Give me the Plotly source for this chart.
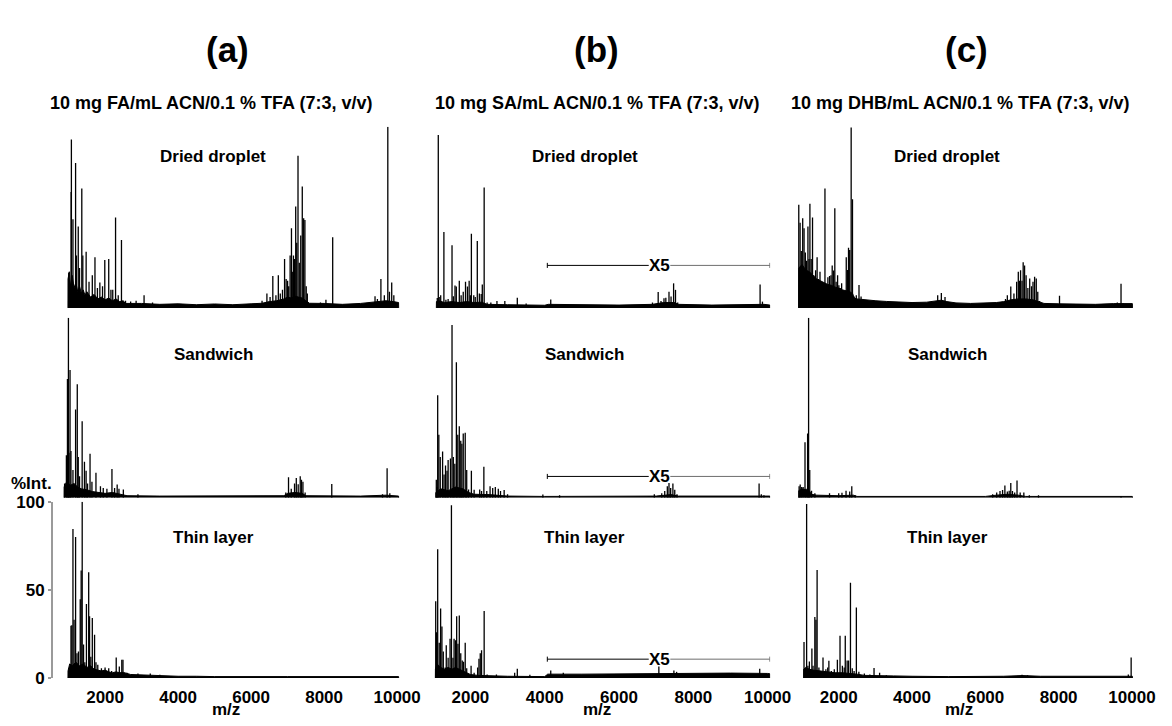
import plotly.graph_objects as go

# ---------------------------------------------------------------------------
# MALDI spectra: peak centroids (m/z, %Int.) and baseline envelopes (m/z, %Int.)
# FA = ferulic acid, SA = sinapinic acid, DHB = 2,5-dihydroxybenzoic acid
# dd = dried droplet, sw = sandwich, tl = thin layer
# ---------------------------------------------------------------------------

# ---- FA, dried droplet ----
fa_dd_mz = [1004, 1070, 1077, 1120, 1192, 1215, 1265, 1300, 1362, 1390, 1481, 1560, 1650,
            1723, 1790, 1857, 1930, 1992, 2100, 2160, 2210, 2287, 2360, 2449, 2560, 2700,
            2850, 3068, 3300, 6300, 6433, 6520, 6595, 6680, 6746, 6800, 6860, 6917, 6960,
            7000, 7030, 7069, 7106, 7140, 7160, 7190, 7222, 7250, 7285, 7320, 7360, 7402,
            7440, 7474, 7510, 7540, 7900, 8050, 8235, 9395, 9460, 9556, 9650, 9745, 9790,
            9852, 9910]
fa_dd_int = [19.5, 64, 93, 49, 80, 29, 45, 22, 66, 29, 31, 14.5, 18,
             28, 11, 14, 12, 26.5, 27, 10, 10, 50, 7, 37.5, 4, 3.5,
             4, 7, 3, 4, 8, 6, 17.6, 7, 18, 8, 10, 27, 16,
             15, 12, 29, 44, 20, 29, 27, 56, 36, 84, 25, 40, 67,
             49.5, 48.6, 12, 8, 3, 4.6, 39, 6.5, 5, 16, 7, 100, 9,
             14, 7]
fa_dd_base_mz = [983, 985, 1020, 1050, 1100, 1150, 1200, 1250, 1300, 1350, 1400, 1450, 1500,
                 1600, 1700, 1800, 1900, 2000, 2100, 2200, 2300, 2400, 2500, 2550, 3000,
                 3500, 4000, 4500, 5000, 5500, 6000, 6300, 6500, 6700, 6900, 7000, 7100,
                 7200, 7300, 7400, 7500, 7600, 8000, 8500, 9000, 9300, 9500, 9700, 9900,
                 10040, 10044]
fa_dd_base = [0, 16, 20, 12, 18, 11, 14, 9, 12, 8, 10, 7, 9,
              6, 7.5, 5, 6, 4.5, 5.5, 4, 5, 3.5, 4, 2.5, 2.5,
              2, 2.3, 1.8, 2.2, 1.8, 2.3, 2.6, 3.5, 4, 5, 6, 5.5,
              6.5, 6, 5.5, 4, 2.6, 2.5, 2, 2.5, 3, 3.5, 4, 3.5,
              3, 0]

# ---- FA, sandwich ----
fa_sw_mz = [890, 940, 969, 996, 1010, 1040, 1065, 1120, 1192, 1238, 1265, 1300, 1372,
            1435, 1480, 1520, 1588, 1640, 1750, 1873, 1950, 2050, 2188, 2260, 2331, 2380,
            2500, 2900, 6950, 7025, 7100, 7190, 7238, 7290, 7346, 7380, 7420, 7480, 8210,
            9600, 9726, 9800]
fa_sw_int = [8, 23.6, 66, 100, 25, 71, 26, 15.5, 49, 63, 22.7, 12, 42.5,
             20, 15, 8, 24.5, 9, 14, 6.5, 5.5, 5, 16, 5.5, 7.4, 5,
             4.7, 2, 3, 11.5, 5, 8, 11, 7.5, 12, 10, 9, 3, 7.7,
             2, 16.4, 2.5]
fa_sw_base_mz = [870, 872, 950, 1050, 1150, 1250, 1350, 1500, 1650, 1800, 2000, 2200, 2400,
                 2600, 3500, 5000, 6900, 7000, 7200, 7400, 7500, 9000, 9700, 10040, 10044]
fa_sw_base = [0, 6, 9, 7, 8, 6, 5, 4.5, 3.5, 3, 2.5, 3, 2,
              1.2, 1, 1, 1.2, 2.5, 3, 2.5, 1.2, 1, 1.5, 1, 0]

# ---- FA, thin layer ----
fa_tl_mz = [1012, 1066, 1090, 1120, 1150, 1192, 1230, 1270, 1319, 1345, 1373, 1410, 1445,
            1489, 1551, 1575, 1610, 1650, 1712, 1750, 1800, 1900, 2000, 2100, 2180, 2305,
            2390, 2458, 2490, 2600, 2900, 3238, 3500]
fa_tl_int = [5.7, 29.6, 30, 84.5, 33, 80, 14, 15, 44.7, 61, 100, 19, 9,
             42, 60, 35, 12, 34, 24.5, 9, 7.5, 5.5, 6, 5.5, 4, 11.6,
             6.5, 10.3, 10.3, 3, 2.5, 2.6, 1.8]
fa_tl_base_mz = [983, 985, 1030, 1100, 1200, 1300, 1400, 1500, 1600, 1700, 1800, 1900, 2000,
                 2100, 2200, 2300, 2400, 2500, 2700, 3000, 3500, 4000, 4500, 5000, 7000,
                 10040, 10044]
fa_tl_base = [0, 4, 8, 7, 9, 7, 8, 6, 7, 5, 4.5, 4, 4.5,
              3.5, 3, 3.5, 3, 3.2, 2, 1.8, 1.2, 1, 1, 0.8, 0.8,
              0.8, 0]

# ---- SA, dried droplet ----
sa_dd_mz = [1108, 1135, 1160, 1200, 1286, 1340, 1400, 1505, 1540, 1585, 1620, 1701, 1750,
            1807, 1868, 1920, 1966, 2000, 2026, 2090, 2130, 2185, 2240, 2290, 2320, 2370,
            2450, 2550, 2714, 2926, 3262, 3500, 4162, 6900, 7054, 7130, 7210, 7260, 7345,
            7400, 7469, 7520, 7580, 9797, 9860]
sa_dd_int = [5.5, 95.5, 6, 7, 42, 4.5, 5, 34.6, 6.5, 12.4, 11.8, 15, 7,
             9, 14.5, 11.8, 15, 7, 41, 7, 6, 37, 8, 7.7, 13, 66.5,
             3, 3, 3.8, 3.8, 5.6, 2.5, 4.7, 3, 8.8, 3.8, 5.4, 5.6, 9,
             6.3, 13.6, 10, 3, 13, 3.5]
sa_dd_base_mz = [1083, 1085, 1150, 1300, 1500, 1700, 1900, 2100, 2300, 2450, 3000, 4000,
                 4100, 5000, 6000, 6900, 7200, 7500, 7600, 8500, 9700, 9900, 10060, 10062]
sa_dd_base = [0, 3.5, 4, 3, 3.5, 3, 3.5, 3, 3.2, 2, 1.8, 1.5,
              2, 1.8, 1.6, 2, 3, 3, 2, 1.6, 1.8, 2, 1.6, 0]

# ---- SA, sandwich ----
sa_sw_mz = [1082, 1100, 1119, 1150, 1188, 1251, 1290, 1330, 1370, 1400, 1463, 1505, 1540,
            1580, 1622, 1660, 1701, 1740, 1770, 1807, 1860, 1900, 1950, 2026, 2100, 2250,
            2300, 2362, 2440, 2529, 2600, 2670, 2750, 2810, 2908, 3000, 3950, 4400, 6950,
            7150, 7230, 7300, 7345, 7390, 7450, 7500, 7560, 9770, 9830, 9900]
sa_sw_int = [10, 6, 57, 35, 22.7, 25.8, 13, 18, 15, 21, 21.8, 96, 22.7,
             19, 75.3, 35, 39.8, 31.7, 30, 35.7, 36.2, 15.5, 4.7, 15, 4.5, 4.7,
             3.8, 17.3, 3.8, 6.5, 5.5, 6, 5, 3.8, 4.3, 2, 1.8, 1.5, 2,
             2.5, 3.8, 6.5, 8.3, 5.5, 8, 4.5, 2, 8, 2, 1.5]
sa_sw_base_mz = [1067, 1069, 1200, 1400, 1600, 1800, 1950, 2100, 2500, 3000, 4000, 7000,
                 7400, 7600, 10060, 10062]
sa_sw_base = [0, 3, 5, 4, 6, 5, 3, 2, 1.8, 1, 0.8, 1,
              1.8, 1, 1, 0]

# ---- SA, thin layer ----
sa_tl_mz = [1066, 1090, 1119, 1160, 1198, 1233, 1270, 1320, 1350, 1400, 1452, 1489, 1530,
            1560, 1600, 1630, 1665, 1701, 1740, 1780, 1815, 1860, 1900, 2018, 2100, 2194,
            2230, 2265, 2300, 2370, 2450, 2700, 3191, 3262, 3600, 4162, 4500, 7072, 7477,
            7550, 9787]
sa_tl_int = [43.5, 26, 73, 20, 39.4, 29.3, 15, 6, 18.6, 11.5, 22.3, 98, 11.5,
             22.3, 21.4, 35, 19.5, 35.5, 14, 10, 9.2, 20, 5.6, 7, 3, 6,
             11, 14, 15.8, 38, 2, 2, 3, 5.3, 1.8, 4.2, 3, 6.6, 4.2,
             3.5, 5.3]
sa_tl_base_mz = [1056, 1058, 1100, 1200, 1300, 1400, 1500, 1600, 1700, 1800, 1900, 2000,
                 2200, 2500, 3000, 4000, 4080, 5000, 6000, 7000, 8000, 9000, 10000, 10060,
                 10062]
sa_tl_base = [0, 5, 8, 6, 5, 6, 5, 6, 5, 4, 3, 2,
              1.5, 1.2, 1, 0.8, 2.2, 2.2, 2.4, 2.6, 2.6, 2.8, 2.6, 2.4,
              0]

# ---- DHB, dried droplet ----
dhb_dd_mz = [911, 947, 980, 1018, 1055, 1090, 1125, 1161, 1190, 1215, 1250, 1286, 1320,
             1370, 1411, 1450, 1490, 1530, 1570, 1625, 1670, 1705, 1750, 1790, 1823, 1860,
             1894, 1930, 1970, 2005, 2040, 2080, 2130, 2170, 2206, 2240, 2268, 2300, 2340,
             2376, 2420, 2480, 2554, 2610, 2700, 3000, 4700, 4800, 4900, 6550, 6600, 6694,
             6780, 6854, 6899, 6930, 6961, 7000, 7032, 7070, 7112, 7160, 7210, 7260, 7300,
             7344, 7389, 7430, 7480, 8023, 9600, 9701, 9760]
dhb_dd_int = [57, 47, 31.5, 49.5, 44, 30.6, 26, 45, 27, 57.5, 27, 50, 18,
              20.8, 28, 16, 20, 14, 13, 66, 13, 17, 17.7, 18, 23.5, 20.7,
              55, 14.5, 18, 12.5, 11, 13.6, 9, 8, 28, 21, 33.3, 32, 99.6,
              60, 6.3, 7, 12.7, 6.3, 4, 4, 7, 8.2, 6, 5, 7, 11.8,
              8, 14.5, 20, 15, 20.8, 15, 25.3, 23.5, 18, 11, 16.3, 12, 14.5,
              17.2, 16.3, 9, 3.8, 6.8, 3, 13.3, 2.5]
dhb_dd_base_mz = [910, 911, 1000, 1100, 1200, 1300, 1400, 1500, 1600, 1700, 1800, 1900,
                  2000, 2100, 2200, 2300, 2380, 2420, 2500, 2700, 3000, 3300, 3700, 4000,
                  4400, 4600, 4800, 4950, 5200, 5600, 6000, 6300, 6500, 6700, 6900, 7100,
                  7300, 7450, 7600, 8000, 8500, 9000, 9500, 9800, 10010, 10012]
dhb_dd_base = [0, 22, 24, 21, 20, 18, 16, 15, 14, 13, 12.5, 11.5,
               11, 10, 9.5, 9, 8, 5.5, 5, 4.5, 4, 3.6, 3.3, 3,
               3.2, 3.8, 4.3, 3.5, 2.8, 2.5, 2.6, 3, 3.5, 4.5, 5, 5,
               4.5, 3.5, 2.5, 2.3, 2, 2, 2.4, 2.6, 2.4, 0]

# ---- DHB, sandwich ----
dhb_sw_mz = [920, 950, 990, 1030, 1081, 1110, 1152, 1179, 1210, 1260, 1350, 1750, 2000,
             2089, 2200, 2300, 2357, 2450, 6200, 6310, 6400, 6470, 6533, 6600, 6650, 6694,
             6740, 6800, 6864, 6950, 7050, 7200, 7450, 9701]
dhb_sw_int = [6.5, 7.4, 6, 6, 30.8, 5, 35.7, 100, 15.5, 4, 2.5, 2.5, 2.5,
              2.9, 4, 3.5, 6.5, 1.5, 2, 3, 3.8, 4.3, 6.8, 3.5, 4, 8.3,
              3.8, 3, 9.7, 3, 3, 1.5, 1.5, 1]
dhb_sw_base_mz = [910, 911, 1000, 1100, 1200, 1250, 1400, 2000, 2400, 2500, 6000, 6300,
                  6600, 6900, 7100, 10010, 10012]
dhb_sw_base = [0, 4, 5, 4.5, 4, 2, 1.5, 1.2, 1.5, 0.8, 0.8, 1.5,
               2, 1.5, 0.8, 0.8, 0]

# ---- DHB, thin layer ----
dhb_tl_mz = [1054, 1090, 1125, 1160, 1200, 1230, 1269, 1300, 1349, 1380, 1411, 1460, 1500,
             1572, 1650, 1700, 1732, 1800, 1880, 1964, 2036, 2100, 2150, 2179, 2230, 2270,
             2321, 2370, 2420, 2482, 2550, 2700, 2850, 2964, 3116, 3300, 7000, 7150, 9900,
             9977]
dhb_tl_int = [20.4, 5, 98.7, 7, 9.4, 5, 16.8, 7, 34.6, 33, 61.3, 6, 4,
              11.6, 5, 6, 9.8, 4, 5, 10.3, 24, 7, 6, 24, 10, 10,
              54, 5.5, 4, 40, 3.5, 2.5, 2, 5.7, 3, 1.6, 1.8, 1.6, 2,
              11.6]
dhb_tl_base_mz = [1044, 1045, 1100, 1200, 1300, 1500, 1700, 1900, 2100, 2300, 2500, 2700,
                  3000, 3500, 4000, 5000, 6500, 7000, 7500, 9000, 10010, 10012]
dhb_tl_base = [0, 5, 6, 5, 4.5, 4, 3.5, 3, 3, 2.8, 2.2, 1.5,
               1.5, 1.2, 1, 0.8, 1, 1.4, 1, 0.9, 1, 0]

# ---- labels ----
col_labels = ["(a)", "(b)", "(c)"]
col_titles = ["10 mg FA/mL ACN/0.1 % TFA (7:3, v/v)",
              "10 mg SA/mL ACN/0.1 % TFA (7:3, v/v)",
              "10 mg DHB/mL ACN/0.1 % TFA (7:3, v/v)"]
row_labels = ["Dried droplet", "Sandwich", "Thin layer"]
x_ticks = [2000, 4000, 6000, 8000, 10000]
y_ticks = [0, 50, 100]

# X5 magnification bracket on the SA column: start, end (m/z) and height per row
x5_start, x5_end = 4070, 10060
x5_level = [23.5, 11.9, 10.7]

# panel order: row by row, FA / SA / DHB across
spectra = [
    (fa_dd_mz, fa_dd_int, fa_dd_base_mz, fa_dd_base),
    (sa_dd_mz, sa_dd_int, sa_dd_base_mz, sa_dd_base),
    (dhb_dd_mz, dhb_dd_int, dhb_dd_base_mz, dhb_dd_base),
    (fa_sw_mz, fa_sw_int, fa_sw_base_mz, fa_sw_base),
    (sa_sw_mz, sa_sw_int, sa_sw_base_mz, sa_sw_base),
    (dhb_sw_mz, dhb_sw_int, dhb_sw_base_mz, dhb_sw_base),
    (fa_tl_mz, fa_tl_int, fa_tl_base_mz, fa_tl_base),
    (sa_tl_mz, sa_tl_int, sa_tl_base_mz, sa_tl_base),
    (dhb_tl_mz, dhb_tl_int, dhb_tl_base_mz, dhb_tl_base),
]

# ---------------------------------------------------------------------------
# page geometry (pixels)
# ---------------------------------------------------------------------------
W, H = 1172, 726
FONT = "Arial, 'Liberation Sans', Helvetica, sans-serif"
X_RANGE = [860, 10070]
COL_PX2000 = [107.0, 479.0, 854.0]       # pixel of m/z 2000 in each column
COL_SCALE = [0.03717, 0.03783, 0.03733]  # pixels per m/z unit
ROW_BASE = [307.0, 502.0, 687.0]         # pixel of 0 %Int. in each row
ROW_SCALE = [1.86, 1.85, 1.81]           # pixels per %Int.
Y_AXIS_PX = 52.7


def col_domain(c):
    left = COL_PX2000[c] + (X_RANGE[0] - 2000) * COL_SCALE[c]
    right = COL_PX2000[c] + (X_RANGE[1] - 2000) * COL_SCALE[c]
    return [left / W, right / W]


def row_domain(r):
    bottom = ROW_BASE[r]
    top = ROW_BASE[r] - 100 * ROW_SCALE[r]
    return [1 - bottom / H, 1 - top / H]


def sticks(mz, inten):
    xs, ys = [], []
    for m, v in zip(mz, inten):
        xs += [m, m, None]
        ys += [0, v, None]
    return xs, ys


def bold(s):
    return "<b>" + s + "</b>"


def paper_text(px, py, text, size):
    return dict(x=px / W, y=1 - py / H, xref="paper", yref="paper",
                xanchor="center", yanchor="middle", text=bold(text),
                showarrow=False, font=dict(size=size, family=FONT, color="black"))


fig = go.Figure()
layout = dict(
    width=W, height=H,
    margin=dict(l=0, r=0, t=0, b=0),
    paper_bgcolor="white", plot_bgcolor="white",
    showlegend=False,
    font=dict(family=FONT, color="black"),
)
annotations = []

for k, (mz, inten, bmz, blev) in enumerate(spectra):
    r, c = divmod(k, 3)
    xa = "x" if k == 0 else f"x{k + 1}"
    ya = "y" if k == 0 else f"y{k + 1}"
    xkey = "xaxis" if k == 0 else f"xaxis{k + 1}"
    ykey = "yaxis" if k == 0 else f"yaxis{k + 1}"

    # baseline / chemical noise envelope
    fig.add_trace(go.Scatter(x=bmz, y=blev, xaxis=xa, yaxis=ya, mode="lines",
                             line=dict(color="black", width=1), fill="tozeroy",
                             fillcolor="black", hoverinfo="skip"))
    # peak sticks
    sx, sy = sticks(mz, inten)
    fig.add_trace(go.Scatter(x=sx, y=sy, xaxis=xa, yaxis=ya, mode="lines",
                             line=dict(color="black", width=1.3), hoverinfo="skip"))

    bottom_row = r == 2
    layout[xkey] = dict(
        domain=col_domain(c), range=X_RANGE, anchor=ya,
        showgrid=False, zeroline=False, showline=False,
        ticks="outside" if bottom_row else "", ticklen=4, tickcolor="white",
        tickvals=x_ticks, ticktext=[str(v) for v in x_ticks],
        showticklabels=bottom_row,
        tickfont=dict(family=FONT, size=17, color="black", weight="bold"),
    )
    yax = dict(domain=row_domain(r), range=[0, 100], anchor=xa,
               showgrid=False, zeroline=False, showline=False,
               showticklabels=False, ticks="")
    if r == 2 and c == 0:
        yax.update(anchor="free", position=Y_AXIS_PX / W, showline=True,
                   linecolor="#9a9a9a", linewidth=1.5, ticks="outside", ticklen=3,
                   tickcolor="#9a9a9a", tickwidth=1.5, tickvals=y_ticks,
                   ticktext=[str(v) for v in y_ticks], showticklabels=True,
                   tickfont=dict(family=FONT, size=17, color="black", weight="bold"))
    layout[ykey] = yax

    # X5 bracket on SA spectra
    if c == 1:
        lev = x5_level[r]
        cap = 2.6 / ROW_SCALE[r]
        gap_l, gap_r = 6800, 7380
        fig.add_trace(go.Scatter(
            x=[x5_start, x5_start, None, x5_start, gap_l],
            y=[lev - cap, lev + cap, None, lev, lev],
            xaxis=xa, yaxis=ya, mode="lines", line=dict(color="black", width=1),
            hoverinfo="skip"))
        fig.add_trace(go.Scatter(
            x=[gap_r, x5_end, None, x5_end, x5_end],
            y=[lev, lev, None, lev - cap, lev + cap],
            xaxis=xa, yaxis=ya, mode="lines", line=dict(color="#6e6e6e", width=1),
            hoverinfo="skip"))
        annotations.append(dict(x=(gap_l + gap_r) / 2, y=lev, xref=xa, yref=ya,
                                xanchor="center", yanchor="middle",
                                text=bold("X5"), showarrow=False,
                                font=dict(size=17, family=FONT, color="black")))

# panel captions
row_label_y = [151, 355, 543]
col_label_x = [217, 595.5, 964.7]
for r, lab in enumerate(row_labels):
    for c in range(3):
        annotations.append(paper_text(col_label_x[c], row_label_y[r], lab, 17))

# column headers
head_x = [232, 607, 984]
title_x = [215, 608, 978]
for c in range(3):
    annotations.append(paper_text(head_x[c], 42, col_labels[c], 35))
    annotations.append(paper_text(title_x[c], 97, col_titles[c], 18))

# axis titles
mz_x = [230.5, 607.7, 977]
for c in range(3):
    annotations.append(paper_text(mz_x[c], 719, "m/z", 17))
annotations.append(paper_text(32.5, 487, "%Int.", 17))

layout["annotations"] = annotations
fig.update_layout(**layout)
fig.write_html("out.html")
